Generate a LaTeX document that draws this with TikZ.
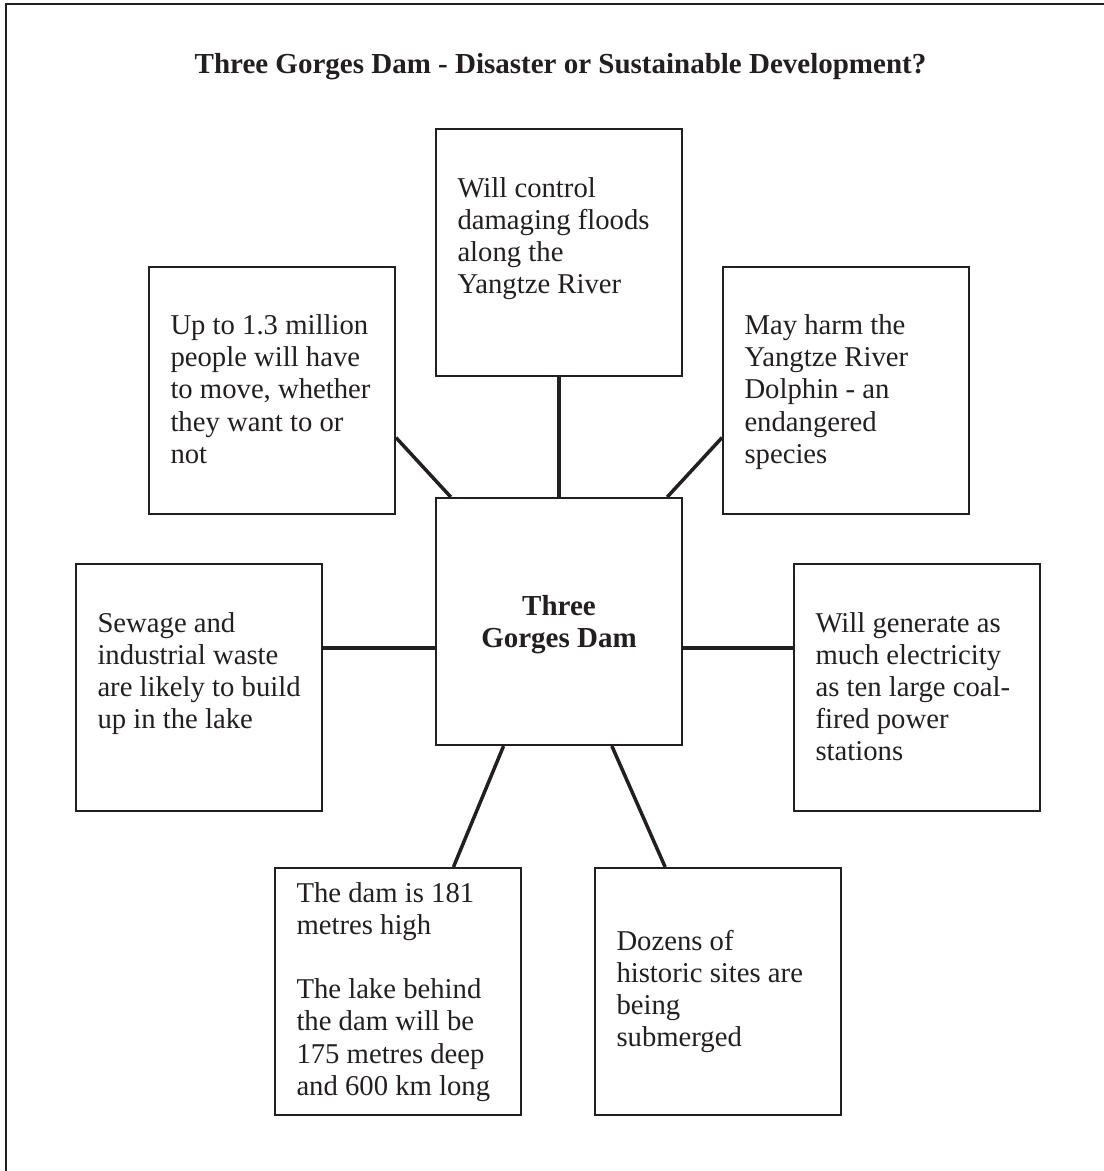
\documentclass[tikz,border=0pt]{standalone}
\usepackage{fontspec}
\setmainfont{Liberation Serif}
\usepackage{xcolor}
\usepackage{tikz}

\definecolor{ink}{HTML}{231F20}
\newcommand{\cardfont}{\fontsize{28.7}{32.2}\selectfont}
\newcommand{\cardtext}[1]{\hspace*{21.5pt}\parbox[t]{224.5pt}{\raggedright #1}}

\tikzset{
  card/.style={draw=ink, line width=2pt, text=ink, font=\cardfont,
    inner sep=0pt, text height=68pt, text depth=179pt},
  link/.style={draw=ink, line width=3.5pt},
  frame/.style={draw=ink, line width=2pt},
  heading/.style={text=ink, font=\bfseries\fontsize{29}{32}\selectfont, inner sep=0pt, anchor=base}
}

\begin{document}
\begin{tikzpicture}[x=1pt,y=-1pt]
\useasboundingbox (0,0) rectangle (1104,1171);
\draw[frame] (5.5,1180) |- (1110,4.2);

\node[heading] (title) at (560.5,73.3) {Three Gorges Dam - Disaster or Sustainable Development?};

\node[card, font=\bfseries\fontsize{29}{32.2}\selectfont, text height=117pt, text depth=130pt] (dam) at (559,621.5) {\parbox[t]{246pt}{\centering Three\\Gorges Dam}};
\node[card] (flood) at (559,252.5) {\cardtext{Will control\\damaging floods\\along the\\Yangtze River}};
\node[card] (people) at (272,390) {\cardtext{Up to 1.3 million\\people will have\\to move, whether\\they want to or\\not}};
\node[card] (dolphin) at (846,390) {\cardtext{May harm the\\Yangtze River\\Dolphin - an\\endangered\\species}};
\node[card] (sewage) at (199,687.5) {\cardtext{Sewage and\\industrial waste\\are likely to build\\up in the lake}};
\node[card] (power) at (917,687.5) {\cardtext{Will generate as\\much electricity\\as ten large coal-\\fired power\\stations}};
\node[card, text height=34pt, text depth=213pt] (size) at (398,991.5) {\cardtext{The dam is 181\\metres high\\[32.2pt]The lake behind\\the dam will be\\175 metres deep\\and 600 km long}};
\node[card, text height=82pt, text depth=165pt] (sites) at (718,991.5) {\cardtext{Dozens of\\historic sites are\\being\\submerged}};

\draw[link] (flood.south) -- (dam.north);
\draw[link] (people.-21) -- (dam.131);
\draw[link] (dolphin.201) -- (dam.49);
\draw[link] (dam.192) -- (dam.192 -| sewage.east);
\draw[link] (dam.-12) -- (dam.-12 -| power.west);
\draw[link] (dam.246) -- (size.66);
\draw[link] (dam.-67) -- (sites.113);

\end{tikzpicture}
\end{document}
